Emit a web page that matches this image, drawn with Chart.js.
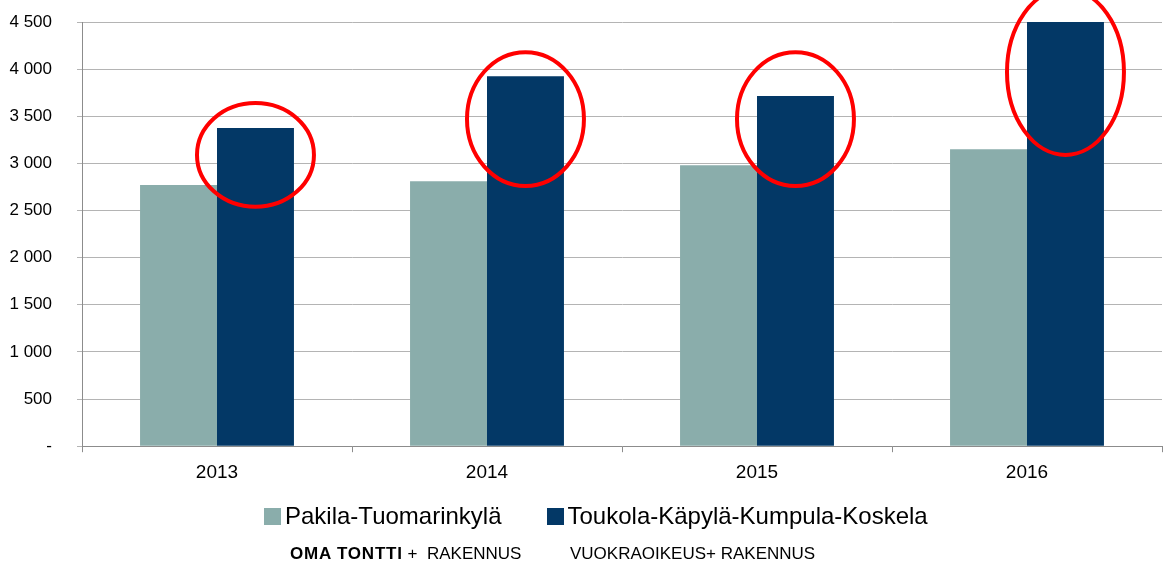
<!DOCTYPE html>
<html>
<head>
<meta charset="utf-8">
<script src="https://cdn.jsdelivr.net/npm/chart.js@4"></script>
<style>
  html, body { margin: 0; padding: 0; background: #fff; }
  #wrap { position: relative; width: 1167px; height: 565px; }
  #legend { position: absolute; left: 264px; top: 502px; display: flex; align-items: center; font: 24px "Liberation Sans", Arial, sans-serif; color: #000; white-space: nowrap; }
  #legend .item { display: flex; align-items: center; margin-right: 45px; }
  #legend .box { width: 17px; height: 17px; margin-right: 4px; }
  .note { position: absolute; top: 544px; font: 17px "Liberation Sans", Arial, sans-serif; color: #000; white-space: pre; }
  .note b { letter-spacing: 0.8px; }
</style>
</head>
<body>
<div id="wrap">
  <canvas id="chart" width="1167" height="565"></canvas>
  <div id="legend"></div>
  <div class="note" style="left:290px"><b>OMA TONTTI</b> +  RAKENNUS</div>
  <div class="note" style="left:570px">VUOKRAOIKEUS+ RAKENNUS</div>
</div>
<script>
// Data
var years = ['2013', '2014', '2015', '2016'];
var pakila = [2770, 2810, 2980, 3150];
var toukola = [3375, 3925, 3715, 4500];
// red rings round the dark bars (center and half height, in axis units)
var ringMid = [3090, 3470, 3470, 3970];
var ringHalf = [550, 710, 710, 880];

function fmt(v) {
    if (v === 0) return '-';
    return String(v).replace(/\B(?=(\d{3})+(?!\d))/g, ' ');
}

var rings = {
    id: 'rings',
    afterDatasetsDraw: function(chart) {
        var ctx = chart.ctx, y = chart.scales.y;
        var meta = chart.getDatasetMeta(1);
        ctx.save();
        ctx.strokeStyle = '#ff0000';
        ctx.lineWidth = 4;
        meta.data.forEach(function(bar, i) {
            var cy = y.getPixelForValue(ringMid[i]);
            var ry = Math.abs(y.getPixelForValue(ringMid[i] + ringHalf[i]) - cy);
            var rx = bar.width * 0.76;
            ctx.beginPath();
            ctx.ellipse(bar.x, cy, rx, ry, 0, 0, Math.PI * 2);
            ctx.stroke();
        });
        ctx.restore();
    }
};

const data = {
    labels: years,
    datasets: [
        { label: 'Pakila-Tuomarinkylä', data: pakila, backgroundColor: '#8aadab' },
        { label: 'Toukola-Käpylä-Kumpula-Koskela', data: toukola, backgroundColor: '#033866' }
    ]
};

const config = {
    type: 'bar',
    data: data,
    plugins: [rings],
    options: {
        responsive: false,
        animation: false,
        layout: { padding: { top: 22, right: 5, bottom: 72, left: 0 } },
        datasets: { bar: { categoryPercentage: 0.57, barPercentage: 1 } },
        scales: {
            x: {
                grid: { display: true, drawOnChartArea: false, drawTicks: true, tickLength: 6, offset: true, color: '#8c8c8c' },
                border: { color: '#8c8c8c', width: 1 },
                ticks: { color: '#000', font: { family: 'Liberation Sans', size: 19 }, padding: 9 }
            },
            y: {
                min: 0, max: 4500,
                afterFit: function(s) { s.width = 82; s.paddingTop = 0; s.paddingBottom = 0; },
                grid: { color: '#b4b4b4', tickLength: 5 },
                border: { color: '#8c8c8c', width: 1 },
                ticks: { stepSize: 500, color: '#000', font: { family: 'Liberation Sans', size: 17 }, padding: 25, callback: function(v) { return fmt(v); } }
            }
        },
        plugins: {
            tooltip: { enabled: false },
            legend: { display: false }
        }
    }
};

const myChart = new Chart(document.getElementById('chart'), config);

// legend as plain text below the chart
var legend = document.getElementById('legend');
data.datasets.forEach(function(ds) {
    var item = document.createElement('div');
    item.className = 'item';
    var box = document.createElement('span');
    box.className = 'box';
    box.style.background = ds.backgroundColor;
    var txt = document.createElement('span');
    txt.textContent = ds.label;
    item.appendChild(box);
    item.appendChild(txt);
    legend.appendChild(item);
});
</script>
</body>
</html>
